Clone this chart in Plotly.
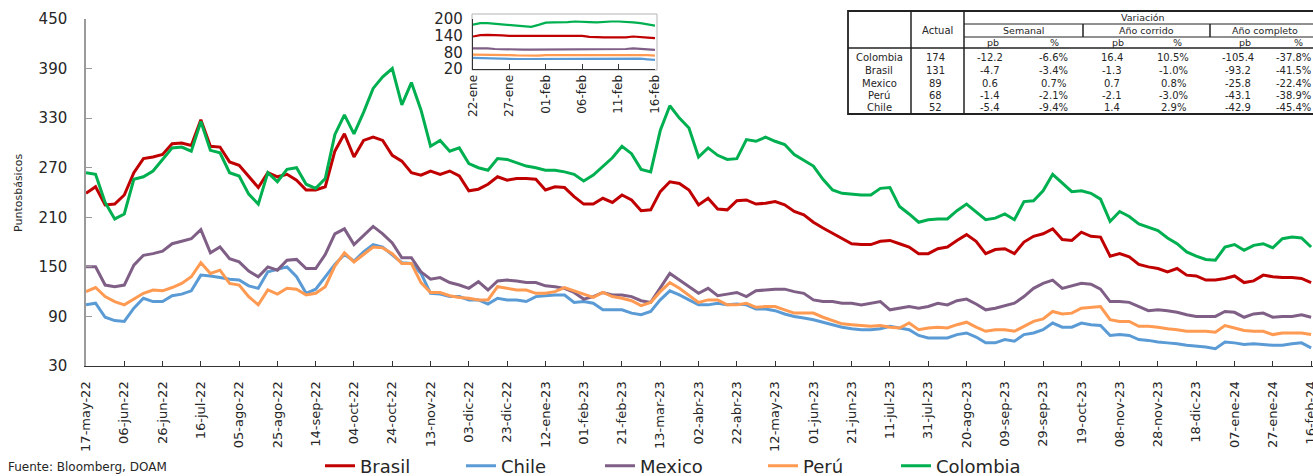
import pandas as pd
import plotly.graph_objects as go

# ---------------- data (main chart, one value every 5 days) ----------------
start_date = "2022-05-17"
end_date = "2024-02-16"
axis_end = "2024-02-17"
dates = pd.date_range(start_date, end_date, freq="5D")

brasil = [239, 247, 225, 226, 237, 264, 281, 283, 286, 299, 300, 297, 328, 296, 295, 277, 273, 260, 246, 264,
          259, 262, 255, 243, 243, 247, 290, 311, 283, 303, 307, 303, 285, 278, 264, 261, 266, 262, 266, 260,
          242, 244, 250, 259, 255, 257, 257, 256, 243, 247,
          246, 235, 226, 226, 233, 228, 237, 231, 218, 219, 241, 253, 251, 243, 225, 233, 220, 219, 230, 231,
          226, 227, 229, 225, 217, 213, 204, 197, 191, 184, 178, 177, 177, 181, 182, 178, 174, 166, 166,
          172, 174, 182, 189, 181, 166, 171, 172, 166, 180, 187, 190, 196, 183, 182, 192, 187, 186, 163, 166,
          162, 153, 150, 148, 144, 148, 140, 139, 134, 134, 136, 139, 131, 133, 140, 138, 137, 137, 136, 131]

chile = [104, 106, 89, 85, 84, 100, 112, 108, 108, 115, 117, 121, 140, 139, 137, 135, 134, 127, 124, 144,
         147, 150, 138, 118, 123, 138, 153, 165, 157, 168, 177, 174, 164, 155, 154, 142, 118, 117, 114, 114,
         110, 110, 105, 112, 110, 110, 108, 114, 115, 116,
         116, 107, 108, 106, 98, 98, 98, 94, 92, 96, 110, 121, 116, 110, 104, 104, 106, 104, 105, 104,
         99, 99, 97, 93, 90, 88, 86, 83, 80, 77, 75, 74, 74, 75, 78, 76, 74, 67, 64,
         64, 64, 68, 70, 65, 58, 58, 62, 60, 68, 70, 74, 82, 77, 77, 82, 80, 79, 67, 68,
         67, 62, 61, 59, 58, 57, 55, 54, 53, 51, 59, 58, 56, 57, 56, 55, 55, 57, 58, 52]

mexico = [150, 150, 128, 126, 128, 152, 164, 166, 169, 178, 181, 184, 195, 167, 174, 160, 156, 145, 138, 150,
          146, 158, 159, 148, 148, 165, 190, 196, 177, 188, 199, 190, 179, 161, 161, 144, 135, 137, 131, 128,
          124, 132, 122, 133, 134, 133, 131, 131, 127, 126,
          124, 119, 111, 114, 119, 116, 116, 114, 109, 107, 124, 142, 134, 126, 118, 124, 115, 117, 119, 114,
          121, 122, 123, 123, 120, 118, 110, 108, 108, 106, 106, 104, 106, 108, 98, 100, 102, 100, 102,
          106, 104, 109, 111, 105, 98, 100, 103, 106, 114, 124, 130, 134, 124, 127, 130, 129, 123, 108, 108,
          107, 102, 97, 98, 97, 95, 92, 90, 90, 90, 96, 95, 89, 93, 94, 89, 90, 90, 92, 89]

peru = [120, 125, 114, 108, 104, 111, 118, 122, 121, 125, 130, 138, 155, 142, 146, 130, 128, 114, 104, 122,
        117, 124, 123, 116, 118, 126, 151, 167, 156, 165, 174, 173, 166, 154, 154, 131, 119, 119, 115, 113,
        112, 110, 110, 126, 124, 122, 122, 118, 118, 120,
        125, 121, 117, 113, 119, 114, 112, 109, 103, 107, 120, 131, 124, 116, 107, 110, 110, 104, 104, 106,
        101, 102, 102, 98, 94, 94, 94, 89, 85, 81, 80, 79, 78, 79, 77, 76, 82, 74, 76,
        77, 76, 80, 83, 77, 72, 74, 74, 72, 78, 84, 87, 96, 93, 94, 100, 101, 102, 86, 84,
        84, 78, 78, 77, 75, 74, 72, 72, 72, 71, 79, 76, 73, 72, 72, 68, 70, 70, 70, 68]

colombia = [264, 262, 228, 208, 214, 256, 259, 266, 280, 294, 295, 290, 326, 291, 288, 264, 260, 238, 226, 264,
            253, 268, 270, 250, 245, 257, 310, 334, 311, 337, 366, 380, 390, 346, 373, 340, 296, 303, 290, 294,
            275, 270, 267, 281, 280, 276, 272, 270, 267, 267,
            265, 262, 254, 261, 272, 282, 296, 287, 268, 265, 315, 345, 330, 318, 283, 294, 285, 280, 281, 304,
            302, 307, 302, 298, 286, 279, 272, 256, 243, 239, 238, 237, 237, 245, 246, 223, 214, 204, 207,
            208, 208, 218, 226, 216, 207, 209, 214, 207, 229, 230, 242, 262, 252, 241, 242, 239, 232, 205, 217,
            211, 202, 198, 194, 185, 178, 168, 163, 159, 158, 174, 177, 170, 176, 178, 173, 184, 186, 185, 174]

tick_dates = pd.date_range(start_date, end_date, freq="20D")
tick_text = ["17-may-22", "06-jun-22", "26-jun-22", "16-jul-22", "05-ago-22", "25-ago-22", "14-sep-22",
             "04-oct-22", "24-oct-22", "13-nov-22", "03-dic-22", "23-dic-22", "12-ene-23", "01-feb-23",
             "21-feb-23", "13-mar-23", "02-abr-23", "22-abr-23", "12-may-23", "01-jun-23", "21-jun-23",
             "11-jul-23", "31-jul-23", "20-ago-23", "09-sep-23", "29-sep-23", "19-oct-23", "08-nov-23",
             "28-nov-23", "18-dic-23", "07-ene-24", "27-ene-24", "16-feb-24"]
y_ticks = [30, 90, 150, 210, 270, 330, 390, 450]

# ---------------- data (inset, daily) ----------------
inset_start = "2024-01-22"
inset_end = "2024-02-16"
inset_dates = pd.date_range(inset_start, inset_end, freq="D")
colombia_in = [180, 185, 185, 183, 181, 179, 178, 176, 172, 179, 187, 188, 188, 189, 191, 191, 189, 188, 190, 191,
               191, 190, 188, 185, 180, 176]
brasil_in = [137, 142, 143, 143, 141, 139, 139, 139, 139, 139, 139, 139, 139, 139, 139, 139, 136, 134, 134, 134,
             134, 134, 137, 136, 133, 131]
mexico_in = [94, 95, 94, 92, 91, 90, 90, 90, 90, 90, 90, 90, 90, 90, 90, 90, 90, 90, 90, 90,
             90, 92, 94, 93, 90, 89]
peru_in = [72, 72, 71, 70, 70, 70, 69, 68, 67, 68, 70, 70, 70, 71, 71, 72, 72, 72, 72, 72,
           72, 72, 72, 71, 70, 68]
chile_in = [60, 59, 58, 57, 56, 56, 56, 56, 56, 57, 57, 58, 58, 58, 58, 58, 58, 58, 58, 58,
            58, 58, 58, 57, 55, 53]
inset_tick_dates = pd.date_range(inset_start, inset_end, freq="5D")
inset_tick_text = ["22-ene", "27-ene", "01-feb", "06-feb", "11-feb", "16-feb"]
inset_y_ticks = [20, 80, 140, 200]

# ---------------- data (table) ----------------
table_names = ["Colombia", "Brasil", "Mexico", "Perú", "Chile"]
table_actual = [174, 131, 89, 68, 52]
sem_pb = [-12.2, -4.7, 0.6, -1.4, -5.4]
sem_pct = [-6.6, -3.4, 0.7, -2.1, -9.4]
ytd_pb = [16.4, -1.3, 0.7, -2.1, 1.4]
ytd_pct = [10.5, -1.0, 0.8, -3.0, 2.9]
yr_pb = [-105.4, -93.2, -25.8, -43.1, -42.9]
yr_pct = [-37.8, -41.5, -22.4, -38.9, -45.4]

series_names = ["Brasil", "Chile", "Mexico", "Perú", "Colombia"]
series_main = [brasil, chile, mexico, peru, colombia]
series_inset = [brasil_in, chile_in, mexico_in, peru_in, colombia_in]
colors = ["#C00000", "#5B9BD5", "#7F5F86", "#FF9A52", "#00B050"]

# ---------------- geometry helpers ----------------
W, H = 1313, 476
ML, MR, MT, MB = 86, 0, 19, 110
PW, PH = W - ML - MR, H - MT - MB


def px(x):
    return (x - ML) / PW


def py(y):
    return (H - MB - y) / PH


FONT = "DejaVu Sans"
TXT = "#262626"

fig = go.Figure()

legend_x = [322, 463, 602, 765, 898]
for i, (name, vals, col) in enumerate(zip(series_names, series_main, colors)):
    lg = "legend" if i == 0 else f"legend{i + 1}"
    fig.add_trace(go.Scatter(x=dates, y=vals, mode="lines", name=name,
                             line=dict(color=col, width=3), legend=lg,
                             xaxis="x", yaxis="y"))

for name, vals, col in zip(series_names, series_inset, colors):
    fig.add_trace(go.Scatter(x=inset_dates, y=vals, mode="lines", name=name,
                             line=dict(color=col, width=2.2), showlegend=False,
                             xaxis="x2", yaxis="y2"))

legends = {}
for i, lx in enumerate(legend_x):
    key = "legend" if i == 0 else f"legend{i + 1}"
    legends[key] = dict(x=px(lx - 2), y=py(466), xanchor="left", yanchor="middle",
                        orientation="h", bgcolor="rgba(0,0,0,0)", borderwidth=0,
                        font=dict(family=FONT, size=18, color=TXT))

fig.update_layout(
    width=W, height=H,
    margin=dict(l=ML, r=MR, t=MT, b=MB, autoexpand=False),
    plot_bgcolor="white", paper_bgcolor="white",
    showlegend=True,
    **legends,
    xaxis=dict(type="date", range=[start_date, axis_end], tickmode="array",
               tickvals=tick_dates, ticktext=tick_text, tickangle=-90,
               ticks="inside", ticklen=5, tickcolor="#333333", tickwidth=1,
               showline=True, linecolor="#333333", linewidth=1.3,
               showgrid=False, zeroline=False, automargin=False,
               ticklabelstandoff=9, ticklabeloverflow="allow",
               tickfont=dict(family=FONT, size=13, color=TXT)),
    yaxis=dict(range=[30, 450], tickmode="array", tickvals=y_ticks,
               ticks="inside", ticklen=6, tickcolor="#9A9A9A", tickwidth=1,
               showline=True, linecolor="#9A9A9A", linewidth=1.5,
               showgrid=False, zeroline=False, automargin=False,
               ticklabelstandoff=14,
               tickfont=dict(family=FONT, size=15, color=TXT)),
    xaxis2=dict(type="date", domain=[px(473), px(655)], anchor="y2",
                range=[inset_start, inset_end], tickmode="array",
                tickvals=inset_tick_dates, ticktext=inset_tick_text, tickangle=-90,
                ticks="inside", ticklen=5, tickcolor="#333333",
                showline=True, linecolor="#333333", linewidth=1.3,
                showgrid=False, zeroline=False, automargin=False,
                ticklabeloverflow="allow",
                tickfont=dict(family=FONT, size=12, color=TXT)),
    yaxis2=dict(domain=[py(69), 1.0], anchor="x2", range=[20, 200],
                tickmode="array", tickvals=inset_y_ticks, ticks="",
                showline=True, linecolor="#333333", linewidth=1.3,
                showgrid=False, zeroline=False, automargin=False,
                ticklabelstandoff=6,
                tickfont=dict(family=FONT, size=15, color=TXT)),
)

shapes = []
annotations = []

# inset frame
shapes.append(dict(type="rect", xref="paper", yref="paper", x0=px(472), x1=px(657),
                   y0=py(70), y1=py(14), line=dict(color="#B4B4B4", width=1), layer="below"))

# ---------------- table ----------------
TL, TR, TT, TB = 848, 1322, 11, 114
C1, C2 = 911, 964
R1, R2, R3 = 24, 37, 48
G1, G2 = 1083, 1210


def hline(y, x0, x1, w=1):
    shapes.append(dict(type="line", xref="paper", yref="paper", x0=px(x0), x1=px(x1),
                       y0=py(y), y1=py(y), line=dict(color="#222222", width=w)))


def vline(x, y0, y1, w=1.5):
    shapes.append(dict(type="line", xref="paper", yref="paper", x0=px(x), x1=px(x),
                       y0=py(y0), y1=py(y1), line=dict(color="#222222", width=w)))


shapes.append(dict(type="rect", xref="paper", yref="paper", x0=px(TL), x1=px(TR),
                   y0=py(TB), y1=py(TT), line=dict(color="#222222", width=1.8),
                   fillcolor="white", layer="above"))
vline(C1, TT, TB)
vline(C2, TT, TB)
hline(R1, C2, TR)
hline(R2, C2, TR)
hline(R3, TL, TR, 1.3)
vline(G1, R1, R2)
vline(G2, R1, R2)


def txt(x, y, s, size=10):
    annotations.append(dict(x=px(x), y=py(y), xref="paper", yref="paper", text=s,
                            showarrow=False, xanchor="center", yanchor="middle",
                            font=dict(family=FONT, size=size, color=TXT)))


txt(1143, 17.5, "Variación", 9.5)
txt(937, 30, "Actual", 10)
txt(1023, 30.5, "Semanal", 9.5)
txt(1146, 30.5, "Año corrido", 9.5)
txt(1265, 30.5, "Año completo", 9.5)
for xpb, xpc in [(993, 1054), (1118, 1177), (1245, 1298)]:
    txt(xpb, 42.5, "pb", 9.5)
    txt(xpc, 42.5, "%", 9.5)

row_y = [57, 70, 83, 95.5, 108]
for i, yy in enumerate(row_y):
    txt(879, yy, table_names[i], 10)
    txt(935, yy, f"{table_actual[i]}", 10)
    txt(990, yy, f"{sem_pb[i]:.1f}", 10)
    txt(1053, yy, f"{sem_pct[i]:.1f}%", 10)
    txt(1112, yy, f"{ytd_pb[i]:.1f}", 10)
    txt(1173, yy, f"{ytd_pct[i]:.1f}%", 10)
    txt(1238, yy, f"{yr_pb[i]:.1f}", 10)
    txt(1293, yy, f"{yr_pct[i]:.1f}%", 10)

# y-axis title and source
annotations.append(dict(x=px(18), y=py(193), xref="paper", yref="paper", text="Puntosbásicos",
                        textangle=-90, showarrow=False, xanchor="center", yanchor="middle",
                        font=dict(family=FONT, size=11, color=TXT)))
annotations.append(dict(x=px(6), y=py(476), xref="paper", yref="paper",
                        text="Fuente: Bloomberg, DOAM", showarrow=False,
                        xanchor="left", yanchor="bottom",
                        font=dict(family=FONT, size=12, color=TXT)))

fig.update_layout(shapes=shapes, annotations=annotations)

fig.write_html("out.html", config={"displayModeBar": False},
               post_script="document.body.style.margin='0';document.body.style.overflow='hidden';")
